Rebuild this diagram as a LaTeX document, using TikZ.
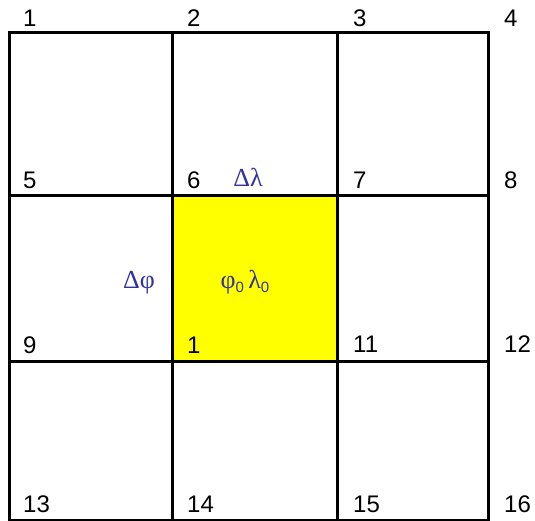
\documentclass[tikz,border=0pt]{standalone}
\usepackage{fontspec}
\usepackage{xcolor}
\newfontfamily\numfont{Liberation Sans}
\newfontfamily\grkfont{Liberation Serif}
\definecolor{GridBlue}{RGB}{51,51,160}
\definecolor{CellYellow}{RGB}{255,255,0}
\newcommand{\subzero}{\raisebox{-4pt}{\numfont\fontsize{15}{17}\selectfont 0}}
\tikzset{
	gridline/.style={black, line width=3pt},
	numlabel/.style={anchor=base west, inner sep=0pt, font=\numfont\fontsize{24}{26}\selectfont},
	grklabel/.style={anchor=base, inner sep=0pt, text=GridBlue, font=\grkfont\fontsize{26}{28}\selectfont},
}

\begin{document}
\begin{tikzpicture}[x=1pt, y=-1pt, line cap=rect]
		\useasboundingbox (0,0) rectangle (535,521);
		
		% Central cell
		\fill[CellYellow] (172,196) rectangle (337,361);
		
		% Grid lines
		\foreach \gx in {9,172,337,488}
			\draw[gridline] (\gx,33) -- (\gx,520);
		\foreach \gy in {33,196,361,520}
			\draw[gridline] (9,\gy) -- (488,\gy);
		
		% Corner numbers
		\foreach \lab/\lx/\ly in {1/23/27, 2/187/27, 3/353/27, 4/504/27,
				5/23/189, 6/187/189, 7/353/189, 8/504/189,
				9/23/353, 10/187/353, 11/353/352, 12/504/352,
				13/23/512, 14/187/512, 15/353/512, 16/504/512}
			\node[numlabel] (n\lab) at (\lx,\ly) {\ifnum\lab=10 1\else\lab\fi};
		
		% Increments and centre
		\node[grklabel] (dlam) at (248,187) {Δλ};
		\node[grklabel] (dphi) at (139,288) {Δφ};
		\node[grklabel] (centre) at (245,288) {φ\subzero\,λ\subzero};
	\end{tikzpicture}
\end{document}
